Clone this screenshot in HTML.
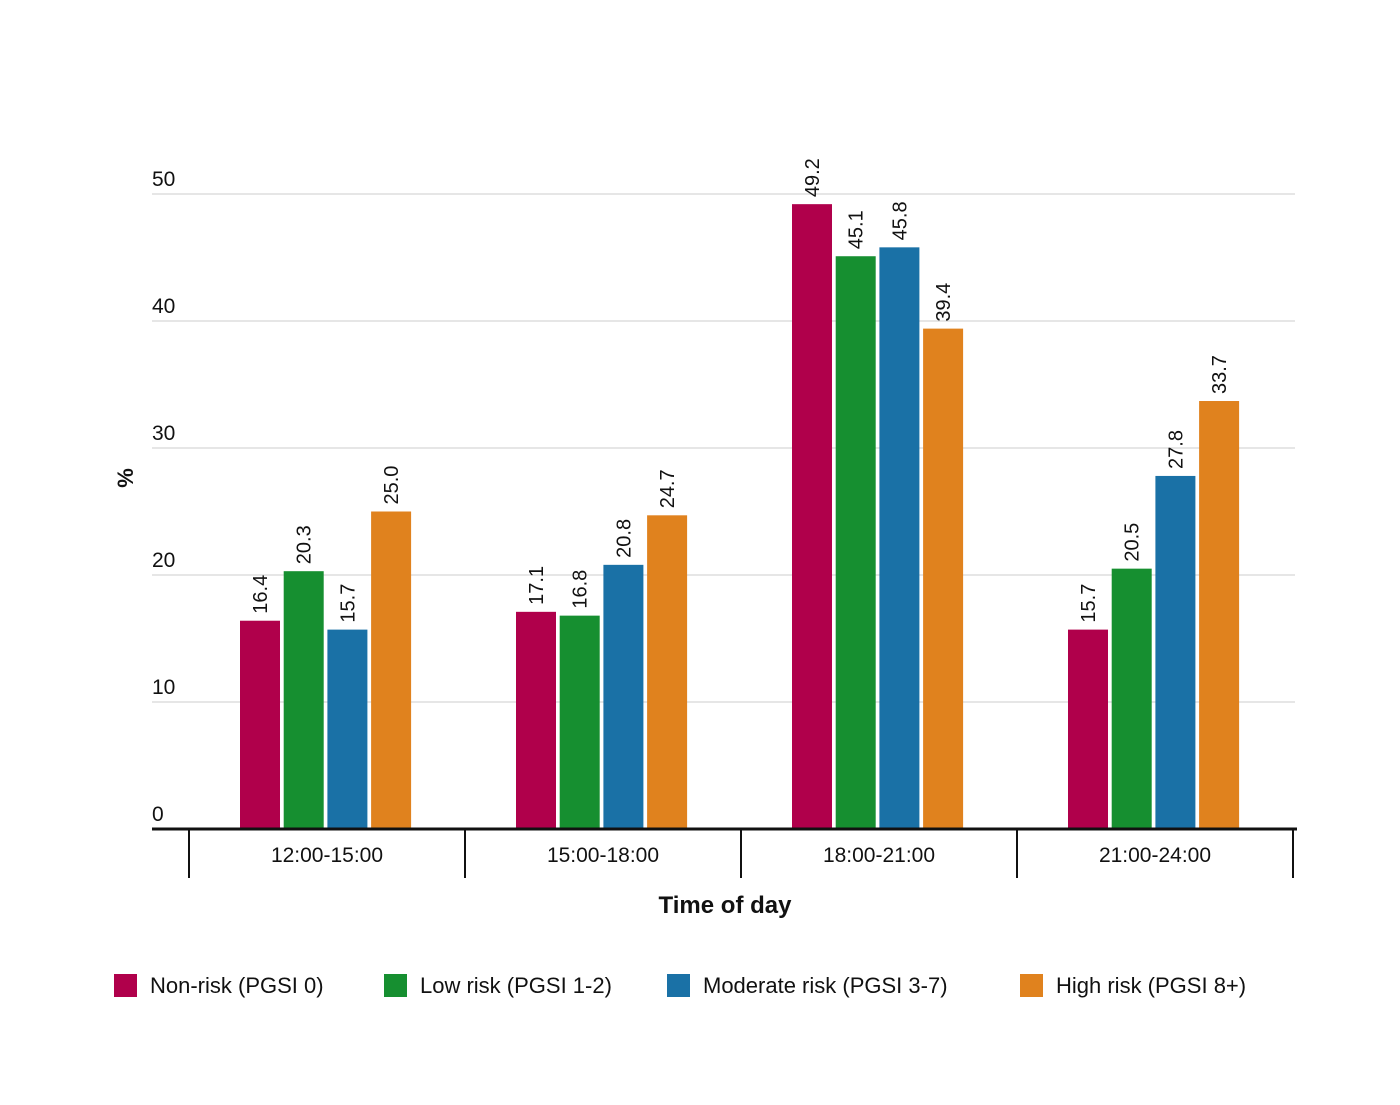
<!DOCTYPE html>
<html><head><meta charset="utf-8"><style>
body{margin:0;background:#fff}
svg text{font-family:"Liberation Sans",sans-serif;fill:#111}
</style></head><body>
<svg id="chart" width="1400" height="1100" xmlns="http://www.w3.org/2000/svg">
<g id="grid"></g><g id="bars"></g><g id="axes"></g>
<text x="0" y="0" transform="translate(133,478) rotate(-90)" text-anchor="middle" font-size="22" font-weight="bold">%</text>
<text x="725" y="913" text-anchor="middle" font-size="24" font-weight="bold">Time of day</text>
<g id="legend"></g>
</svg>
<script>
const categories=["12:00-15:00","15:00-18:00","18:00-21:00","21:00-24:00"];
const seriesNames=["Non-risk (PGSI 0)","Low risk (PGSI 1-2)","Moderate risk (PGSI 3-7)","High risk (PGSI 8+)"];
const nonRisk=[16.4,17.1,49.2,15.7];
const lowRisk=[20.3,16.8,45.1,20.5];
const moderateRisk=[15.7,20.8,45.8,27.8];
const highRisk=[25.0,24.7,39.4,33.7];
const yTicks=[0,10,20,30,40,50];
const series=[nonRisk,lowRisk,moderateRisk,highRisk];
const colors=["#b0004b","#168f30","#1a71a6","#e0821e"];
const NS="http://www.w3.org/2000/svg";
const y0=829,pxPer=12.7,xStart=189,catW=276,barW=40,step=43.7;
const y=v=>y0-v*pxPer;
const cx=i=>xStart+catW*i+catW/2;
function mk(t,a,p){const e=document.createElementNS(NS,t);for(const k in a)e.setAttribute(k,a[k]);p.appendChild(e);return e;}
const grid=document.getElementById('grid'),bars=document.getElementById('bars'),axes=document.getElementById('axes'),legend=document.getElementById('legend');
yTicks.forEach(t=>{
 if(t>0){const l=mk('line',{x1:152,x2:1295,y1:y(t),y2:y(t),stroke:'#ddd','stroke-width':1.5},grid);
 
 }
 const tx=mk('text',{x:152,y:y(t)-8,'font-size':21},grid);tx.textContent=t;
 
 
});
categories.forEach((c,i)=>{
 series.forEach((s,j)=>{
  const x=cx(i)-87+j*step;
  const r=mk('rect',{x:x,y:y(s[i]),width:barW,height:s[i]*pxPer,fill:colors[j]},bars);
  
  
  const tx=mk('text',{transform:`translate(${x+barW/2+7},${y(s[i])-7}) rotate(-90)`,'font-size':20},bars);
  tx.textContent=s[i].toFixed(1);
  
  
 });
 const tl=mk('text',{x:cx(i),y:862,'text-anchor':'middle','font-size':21},axes);tl.textContent=c;
 
 
});
for(let i=0;i<=4;i++){const l=mk('line',{x1:xStart+catW*i,x2:xStart+catW*i,y1:829,y2:878,stroke:'#111','stroke-width':2},axes);
 
 }
const ax=mk('line',{x1:152,x2:1297,y1:829,y2:829,stroke:'#111','stroke-width':3},axes);


const lx=[114,384,667,1020];
seriesNames.forEach((n,j)=>{
 const r=mk('rect',{x:lx[j],y:974,width:23,height:23,fill:colors[j]},legend);
 
 
 const t=mk('text',{x:lx[j]+36,y:993,'font-size':22},legend);t.textContent=n;
 
 
});
</script>
</body></html>
